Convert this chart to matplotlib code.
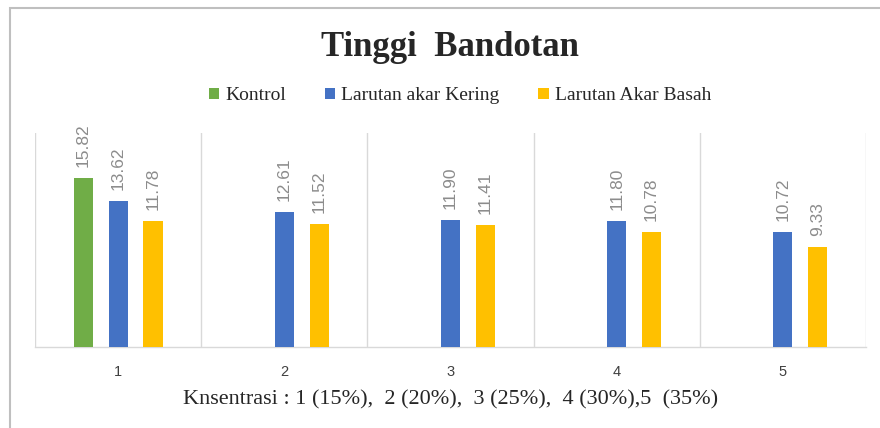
import numpy as np
import matplotlib
matplotlib.use('Agg')
import matplotlib.pyplot as plt
from matplotlib.patches import Rectangle

# Data
groups = ['1', '2', '3', '4', '5']
kontrol = [15.82, np.nan, np.nan, np.nan, np.nan]
akar_kering = [13.62, 12.61, 11.90, 11.80, 10.72]
akar_basah = [11.78, 11.52, 11.41, 10.78, 9.33]
series_names = ['Kontrol', 'Larutan akar Kering', 'Larutan Akar Basah']
colors = ['#70AD47', '#4472C4', '#FFC000']

serif = ['Liberation Serif', 'DejaVu Serif']
narrow = ['Liberation Sans Narrow', 'Liberation Sans', 'DejaVu Sans']

fig = plt.figure(figsize=(8.8, 4.28), dpi=100)
ax = fig.add_axes([35 / 880, 81 / 428, 831 / 880, 214 / 428])

# outer chart frame (left and top edges visible)
fig.patches.append(Rectangle((10 / 880, -0.1), 1.2, 0.1 + 420 / 428,
                             transform=fig.transFigure, fill=False,
                             edgecolor='#BFBFBF', linewidth=1.5))

x = np.arange(1, len(groups) + 1)
width = 0.115
offsets = [-0.21, 0.0, 0.21]
all_series = [kontrol, akar_kering, akar_basah]

for vals, off, col, name in zip(all_series, offsets, colors, series_names):
    ax.bar(x + off, vals, width, color=col, label=name, zorder=3)
    for xi, v in zip(x + off, vals):
        if np.isnan(v):
            continue
        ax.annotate(f'{v:.2f}', (xi, v), xytext=(0, 8), textcoords='offset points',
                    rotation=90, ha='center', va='bottom', fontsize=12.5,
                    color='#8C8C8C', family=narrow)

ax.set_xlim(0.5, 5.5)
ax.set_ylim(0, 20)
ax.set_yticks([])
ax.set_xticks(x)
ax.set_xticklabels(groups, fontsize=10.5, color='#404040', family=narrow)
ax.tick_params(axis='x', length=0, pad=13)

for b in np.arange(0.5, 6.0, 1.0):
    ax.axvline(b, color='#D9D9D9', linewidth=1, zorder=1)

for s in ['top', 'right', 'left']:
    ax.spines[s].set_visible(False)
ax.spines['bottom'].set_color('#D9D9D9')
ax.spines['bottom'].set_linewidth(1)

ax.set_xlabel('Knsentrasi : 1 (15%),  2 (20%),  3 (25%),  4 (30%),5  (35%)',
              fontsize=16, color='#262626', family=serif, labelpad=8)

fig.text(450 / 880, 1 - 47 / 428, 'Tinggi  Bandotan', ha='center', va='center',
         fontsize=25, fontweight='bold', color='#262626', family=serif)

fig.legend(loc='center', bbox_to_anchor=(460 / 880, 1 - 96 / 428), ncol=3,
           frameon=False, prop={'family': serif, 'size': 14},
           handlelength=0.55, handleheight=0.55, handletextpad=0.3,
           columnspacing=2.0, labelcolor='#262626')

fig.savefig('out.png', dpi=100)
